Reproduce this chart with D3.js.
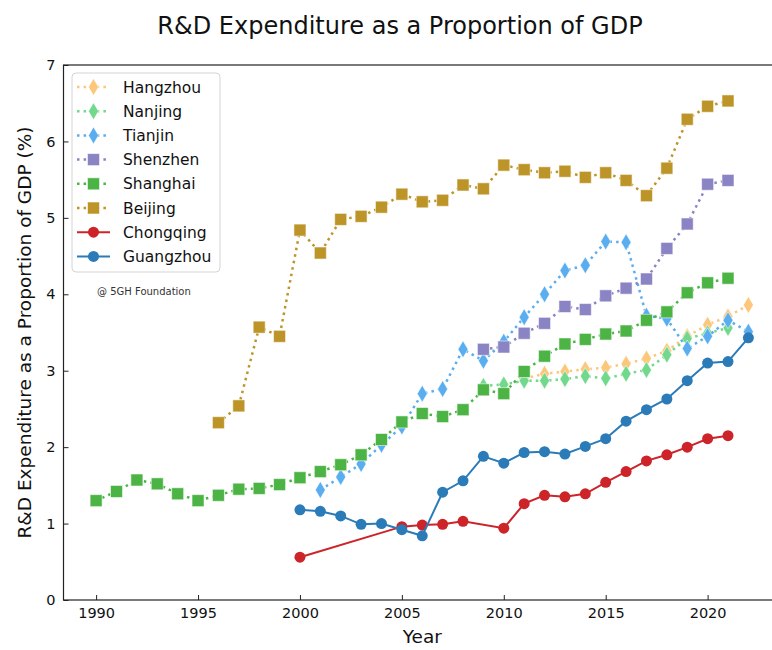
<!DOCTYPE html>
<html>
<head>
<meta charset="utf-8">
<script src="https://cdn.jsdelivr.net/npm/d3@7"></script>
<style>
  body { margin: 0; background: #fff; }
  svg { font-family: "DejaVu Sans", sans-serif; }
</style>
</head>
<body>
<div id="chart"></div>
<script>
// series, in plotting order (later ones sit on top)
const hangzhouYears = d3.range(2011, 2023);
const hangzhouValues = [2.90, 2.96, 2.99, 3.02, 3.04, 3.09, 3.16, 3.26, 3.45, 3.60, 3.71, 3.86];

const nanjingYears = d3.range(2009, 2022);
const nanjingValues = [2.80, 2.82, 2.87, 2.87, 2.89, 2.93, 2.90, 2.96, 3.01, 3.21, 3.42, 3.49, 3.56];

const tianjinYears = d3.range(2001, 2023);
const tianjinValues = [1.44, 1.61, 1.78, 2.03, 2.27, 2.70, 2.76, 3.28, 3.13, 3.38, 3.70, 4.00,
    4.31, 4.38, 4.69, 4.68, 3.72, 3.68, 3.29, 3.45, 3.66, 3.51];

const shenzhenYears = d3.range(2009, 2022);
const shenzhenValues = [3.28, 3.31, 3.49, 3.62, 3.84, 3.80, 3.98, 4.08, 4.20, 4.60, 4.92, 5.44, 5.49];

const shanghaiYears = d3.range(1990, 2022);
const shanghaiValues = [1.30, 1.42, 1.57, 1.52, 1.39, 1.30, 1.37, 1.45, 1.46, 1.51, 1.60, 1.68,
    1.77, 1.90, 2.10, 2.33, 2.44, 2.40, 2.49, 2.75, 2.70, 2.99, 3.19, 3.35, 3.41, 3.48, 3.52,
    3.66, 3.77, 4.02, 4.15, 4.21];

const beijingYears = d3.range(1996, 2022);
const beijingValues = [2.32, 2.54, 3.57, 3.45, 4.84, 4.54, 4.98, 5.02, 5.14, 5.31, 5.21, 5.23,
    5.43, 5.38, 5.69, 5.63, 5.59, 5.61, 5.53, 5.59, 5.49, 5.29, 5.65, 6.29, 6.46, 6.53];

const chongqingYears = [2000, 2005, 2006, 2007, 2008, 2010, 2011, 2012, 2013, 2014, 2015, 2016,
    2017, 2018, 2019, 2020, 2021];
const chongqingValues = [0.56, 0.96, 0.98, 0.99, 1.03, 0.94, 1.26, 1.37, 1.35, 1.39, 1.54, 1.68,
    1.82, 1.90, 2.00, 2.11, 2.15];

const guangzhouYears = d3.range(2000, 2023);
const guangzhouValues = [1.18, 1.16, 1.10, 0.99, 1.00, 0.92, 0.84, 1.41, 1.56, 1.88, 1.79, 1.93,
    1.94, 1.91, 2.01, 2.11, 2.34, 2.49, 2.63, 2.87, 3.10, 3.12, 3.43];

const xTicks = [1990, 1995, 2000, 2005, 2010, 2015, 2020];
const yTicks = [0, 1, 2, 3, 4, 5, 6, 7];

const series = [
    { name: "Hangzhou", years: hangzhouYears, values: hangzhouValues, color: "#fcc77b", marker: "diamond", dotted: true },
    { name: "Nanjing", years: nanjingYears, values: nanjingValues, color: "#72d88b", marker: "diamond", dotted: true },
    { name: "Tianjin", years: tianjinYears, values: tianjinValues, color: "#5aaef0", marker: "diamond", dotted: true },
    { name: "Shenzhen", years: shenzhenYears, values: shenzhenValues, color: "#8a83c4", marker: "square", dotted: true },
    { name: "Shanghai", years: shanghaiYears, values: shanghaiValues, color: "#4cb445", marker: "square", dotted: true },
    { name: "Beijing", years: beijingYears, values: beijingValues, color: "#bc9427", marker: "square", dotted: true },
    { name: "Chongqing", years: chongqingYears, values: chongqingValues, color: "#cc2428", marker: "circle", dotted: false },
    { name: "Guangzhou", years: guangzhouYears, values: guangzhouValues, color: "#2b7bb9", marker: "circle", dotted: false }
];

const W = 772, H = 650;
const margin = { top: 65, left: 63.5 };
const width = 717.5, height = 535;

const svg = d3.select("#chart").append("svg")
    .attr("width", W)
    .attr("height", H);

const xScale = d3.scaleLinear().domain([1988.4, 2023.6]).range([0, width]);
const yScale = d3.scaleLinear().domain([0, 7]).range([height, 0]);

const g = svg.append("g")
    .attr("transform", `translate(${margin.left},${margin.top})`);

// title
svg.append("text")
    .attr("x", 400)
    .attr("y", 34)
    .attr("text-anchor", "middle")
    .attr("font-size", 24)
    .attr("fill", "#111")
    .text("R&D Expenditure as a Proportion of GDP");

// axes
const xAxis = d3.axisBottom(xScale).tickValues(xTicks).tickFormat(d3.format("d"))
    .tickSizeInner(-5).tickSizeOuter(0).tickPadding(8);
const yAxis = d3.axisLeft(yScale).tickValues(yTicks).tickFormat(d3.format("d"))
    .tickSizeInner(-5).tickSizeOuter(0).tickPadding(8);

g.append("g")
    .attr("transform", `translate(0,${height})`)
    .call(xAxis)
    .call(a => a.select(".domain").remove())
    .selectAll("text").attr("font-size", 14.5).attr("fill", "#111")
    .attr("font-family", "DejaVu Sans");

g.append("g")
    .call(yAxis)
    .call(a => a.select(".domain").remove())
    .selectAll("text").attr("font-size", 14.5).attr("fill", "#111")
    .attr("font-family", "DejaVu Sans");

g.selectAll(".tick line").attr("stroke", "#222").attr("stroke-width", 1);

// frame (right spine falls outside the picture)
g.append("rect")
    .attr("width", width)
    .attr("height", height)
    .attr("fill", "none")
    .attr("stroke", "#222")
    .attr("stroke-width", 1.2);

// axis labels
svg.append("text")
    .attr("x", margin.left + width / 2)
    .attr("y", 643)
    .attr("text-anchor", "middle")
    .attr("font-size", 18.5)
    .attr("fill", "#111")
    .text("Year");

svg.append("text")
    .attr("transform", `translate(31,${margin.top + height / 2}) rotate(-90)`)
    .attr("text-anchor", "middle")
    .attr("font-size", 18.5)
    .attr("fill", "#111")
    .text("R&D Expenditure as a Proportion of GDP (%)");

function drawMarker(sel, s) {
    if (s.marker === "circle") {
        sel.append("circle").attr("r", 5.5)
            .attr("fill", s.color);
    } else if (s.marker === "square") {
        sel.append("rect").attr("x", -6).attr("y", -6).attr("width", 12).attr("height", 12)
            .attr("fill", s.color).attr("stroke", "#fff").attr("stroke-opacity", 0.55).attr("stroke-width", 1);
    } else {
        sel.append("path").attr("d", "M0,-8.5L5,0L0,8.5L-5,0Z")
            .attr("fill", s.color).attr("stroke", "#fff").attr("stroke-opacity", 0.55).attr("stroke-width", 1);
    }
}

const line = d3.line()
    .x(d => xScale(d[0]))
    .y(d => yScale(d[1]));

series.forEach(s => {
    const pts = s.years.map((y, i) => [y, s.values[i]]);
    const sg = g.append("g");
    sg.append("path")
        .datum(pts)
        .attr("fill", "none")
        .attr("stroke", s.color)
        .attr("stroke-width", s.dotted ? 2.5 : 2)
        .attr("stroke-dasharray", s.dotted ? "2.5,4.1" : null)
        .attr("d", line);
    sg.selectAll("g.pt")
        .data(pts)
        .join("g")
        .attr("class", "pt")
        .attr("transform", d => `translate(${xScale(d[0])},${yScale(d[1])})`)
        .each(function () { drawMarker(d3.select(this), s); });
});

// legend
const legend = svg.append("g").attr("transform", "translate(72,73)");
legend.append("rect")
    .attr("width", 148)
    .attr("height", 199)
    .attr("rx", 4)
    .attr("fill", "#fff")
    .attr("fill-opacity", 0.85)
    .attr("stroke", "#d4d4d4")
    .attr("stroke-width", 1);

series.forEach((s, i) => {
    const row = legend.append("g").attr("transform", `translate(0,${14 + i * 24.2})`);
    row.append("line")
        .attr("x1", 5).attr("x2", 38)
        .attr("stroke", s.color)
        .attr("stroke-width", s.dotted ? 2.5 : 2)
        .attr("stroke-dasharray", s.dotted ? "2.5,4.1" : null);
    drawMarker(row.append("g").attr("transform", "translate(21.5,0)"), s);
    row.append("text")
        .attr("x", 51)
        .attr("y", 0)
        .attr("dy", "0.36em")
        .attr("font-size", 15.5)
        .attr("fill", "#111")
        .text(s.name);
});

// watermark
svg.append("text")
    .attr("x", 97)
    .attr("y", 295)
    .attr("font-size", 10)
    .attr("fill", "#333")
    .text("@ 5GH Foundation");
</script>
</body>
</html>
